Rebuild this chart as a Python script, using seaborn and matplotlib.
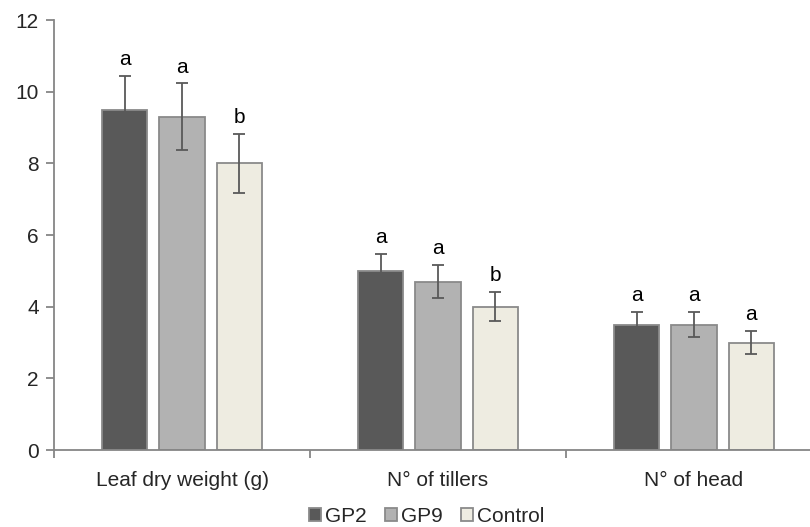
import numpy as np
import pandas as pd
import matplotlib.pyplot as plt
import seaborn as sns

sns.set_style("white")
plt.rcParams['font.family'] = ['Liberation Sans', 'DejaVu Sans']

# values
traits = ['Leaf dry weight (g)', 'N° of tillers', 'N° of head']
groups = ['GP2', 'GP9', 'Control']
gp2 = [9.5, 5.0, 3.5]
gp9 = [9.3, 4.7, 3.5]
control = [8.0, 4.0, 3.0]
gp2_err = [0.93, 0.47, 0.35]
gp9_err = [0.93, 0.47, 0.35]
control_err = [0.82, 0.40, 0.33]
gp2_let = ['a', 'a', 'a']
gp9_let = ['a', 'a', 'a']
control_let = ['b', 'b', 'a']

colors = ['#595959', '#b2b2b2', '#eeece1']
edge = '#8a8a8a'

rows = []
for g, vals, errs, lets in zip(groups, [gp2, gp9, control],
                               [gp2_err, gp9_err, control_err],
                               [gp2_let, gp9_let, control_let]):
    for t, v, e, l in zip(traits, vals, errs, lets):
        rows.append({'trait': t, 'group': g, 'value': v, 'err': e, 'letter': l})
df = pd.DataFrame(rows)

fig = plt.figure(figsize=(8.1, 5.27), dpi=100)
# axes run a bit past the right edge, like the original export
ax = fig.add_axes([0.0667, 0.146, 0.948, 0.816])

sns.barplot(data=df, x='trait', y='value', hue='group', order=traits,
            hue_order=groups, palette=colors, saturation=1, width=0.67, gap=0.21,
            errorbar=None, edgecolor=edge, linewidth=1.3, ax=ax)

# error bars and letters
for gi, g in enumerate(groups):
    cont = ax.containers[gi]
    sub = df[df.group == g].set_index('trait').loc[traits]
    for bar, (_, r) in zip(cont.patches, sub.iterrows()):
        xc = bar.get_x() + bar.get_width() / 2
        ax.errorbar(xc, r['value'], yerr=r['err'], fmt='none', ecolor='#595959',
                    elinewidth=1.3, capsize=4, capthick=1.3)
        ax.annotate(r['letter'], (xc, r['value'] + r['err']), xytext=(0, 5),
                    textcoords='offset points', ha='center', va='bottom',
                    fontsize=15, color='black')

ax.set_ylim(0, 12)
ax.set_xlim(-0.5, 2.5)
ax.set_yticks(range(0, 13, 2))
ax.set_xlabel('')
ax.set_ylabel('')

for s in ['top', 'right']:
    ax.spines[s].set_visible(False)
for s in ['left', 'bottom']:
    ax.spines[s].set_color('#868686')
    ax.spines[s].set_linewidth(1.3)

ax.tick_params(axis='y', which='major', direction='out', length=6, width=1.3,
               color='#868686', labelsize=15, pad=5, left=True)
ax.tick_params(axis='x', which='major', length=0, labelsize=15, pad=15)
ax.set_xticks([-0.5, 0.5, 1.5], minor=True)
ax.tick_params(axis='x', which='minor', direction='out', length=6, width=1.3,
               color='#868686', bottom=True)

handles, labels = ax.get_legend_handles_labels()
ax.get_legend().remove()
fig.legend(handles, labels, loc='center', bbox_to_anchor=(0.527, 0.02),
           ncol=3, frameon=False, fontsize=15, handlelength=0.55, handleheight=0.55,
           handletextpad=0.2, columnspacing=0.9, borderpad=0)

plt.savefig('out.png', dpi=100)
